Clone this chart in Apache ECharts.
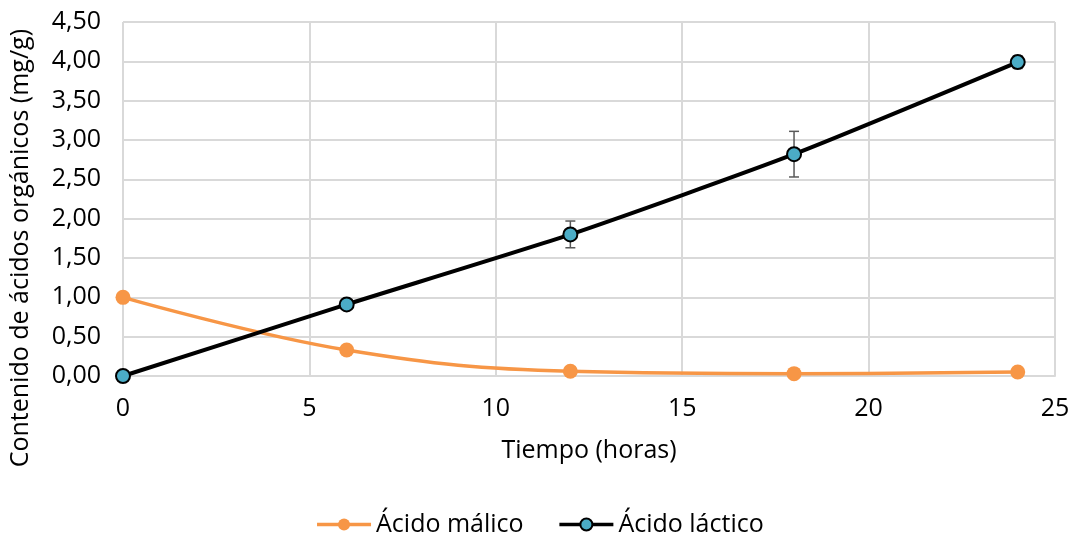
<!DOCTYPE html>
<html><head><meta charset="utf-8">
<script src="https://cdn.jsdelivr.net/npm/echarts@6/dist/echarts.min.js"></script>
<style>html,body{margin:0;padding:0;background:#fff}#c{width:1079px;height:535px}</style>
</head><body><div id="c"></div>
<script>
const times = [0, 6, 12, 18, 24];
const malico = [1.00, 0.33, 0.06, 0.03, 0.05];
const malicoErr = [0.03, 0.01, 0.01, 0.01, 0.01];
const lactico = [0.00, 0.91, 1.80, 2.82, 3.99];
const lacticoErr = [0.01, 0.02, 0.17, 0.29, 0.08];
const seriesNames = ['Ácido málico', 'Ácido láctico'];
const xTitle = 'Tiempo (horas)';
const yTitle = 'Contenido de ácidos orgánicos (mg/g)';

const FONT = 'Open Sans';
const FS = 25;
const chart = echarts.init(document.getElementById('c'));

function errSeries(vals, errs) {
  return {
    type: 'custom', z: 1, silent: true,
    data: times.map((t, i) => [t, vals[i] - errs[i], vals[i] + errs[i]]),
    renderItem: function (params, api) {
      const lo = api.coord([api.value(0), api.value(1)]);
      const hi = api.coord([api.value(0), api.value(2)]);
      const w = 5;
      const st = { stroke: '#595959', lineWidth: 1.5 };
      return { type: 'group', children: [
        { type: 'line', shape: { x1: lo[0], y1: lo[1], x2: hi[0], y2: hi[1] }, style: st },
        { type: 'line', shape: { x1: lo[0] - w, y1: lo[1], x2: lo[0] + w, y2: lo[1] }, style: st },
        { type: 'line', shape: { x1: hi[0] - w, y1: hi[1], x2: hi[0] + w, y2: hi[1] }, style: st }
      ]};
    }
  };
}

chart.setOption({
  animation: false,
  textStyle: { fontFamily: FONT },
  grid: { left: 123, right: 24, top: 22, bottom: 159 },
  legend: {
    top: 507, left: 'center', itemWidth: 54, itemHeight: 15, itemGap: 34,
    textStyle: { fontFamily: FONT, fontSize: FS, color: '#000' },
    lineStyle: { width: 3.5 },
    data: seriesNames
  },
  xAxis: {
    type: 'value', min: 0, max: 25, interval: 5,
    name: xTitle, nameLocation: 'middle', nameGap: 62,
    nameTextStyle: { fontFamily: FONT, fontSize: FS, color: '#000' },
    axisLine: { show: true, lineStyle: { color: '#d9d9d9', width: 2 } },
    axisTick: { show: false },
    axisLabel: { fontFamily: FONT, fontSize: FS, color: '#000', margin: 20 },
    splitLine: { show: true, lineStyle: { color: '#d9d9d9', width: 2 } }
  },
  yAxis: {
    type: 'value', min: 0, max: 4.5, interval: 0.5,
    axisLine: { show: false }, axisTick: { show: false },
    axisLabel: { fontFamily: FONT, fontSize: FS, color: '#000', margin: 22,
      formatter: v => v.toFixed(2).replace('.', ',') },
    splitLine: { show: true, lineStyle: { color: '#d9d9d9', width: 2 } }
  },
  graphic: [{
    type: 'text', left: 8, top: 29, rotation: Math.PI / 2,
    style: { text: yTitle, fontFamily: FONT, fontSize: FS, fill: '#000' }
  }],
  series: [
    errSeries(malico, malicoErr),
    errSeries(lactico, lacticoErr),
    {
      name: seriesNames[0], type: 'line', z: 3, smooth: 0.4,
      data: times.map((t, i) => [t, malico[i]]),
      symbol: 'circle', symbolSize: 15,
      lineStyle: { color: '#F79646', width: 3.5 },
      itemStyle: { color: '#F79646', borderWidth: 0 }
    },
    {
      name: seriesNames[1], type: 'line', z: 4, smooth: 0.2,
      data: times.map((t, i) => [t, lactico[i]]),
      symbol: 'circle', symbolSize: 14,
      lineStyle: { color: '#000', width: 4 },
      itemStyle: { color: '#4BACC6', borderColor: '#000', borderWidth: 2 }
    }
  ]
});
</script></body></html>
